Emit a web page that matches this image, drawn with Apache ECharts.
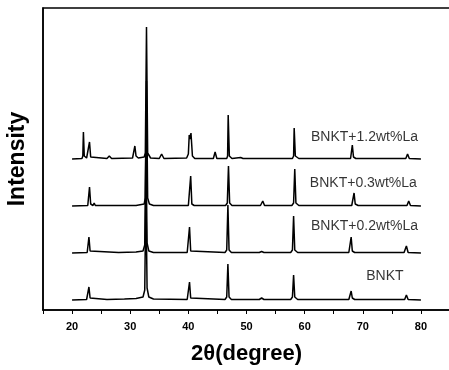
<!DOCTYPE html>
<html>
<head>
<meta charset="utf-8">
<script src="https://cdn.jsdelivr.net/npm/echarts@6/dist/echarts.min.js"></script>
<style>
html,body{margin:0;padding:0;background:#fff;}
#c{width:449px;height:370px;}
</style>
</head>
<body>
<div id="c"></div>
<script>
// Sample names (bottom to top)
var sampleNames = ['BNKT', 'BNKT+0.2wt%La', 'BNKT+0.3wt%La', 'BNKT+1.2wt%La'];
// Vertical offsets of each pattern (stacked display, a.u.)
var offsets = [10, 57, 104, 151];
// Label anchor positions [2θ, intensity]
var labelPos = [[73.8, 34], [70.3, 84], [70.1, 127], [70.3, 173]];

// Patterns: [2θ (deg), relative intensity above baseline (a.u.)]
var bnkt = [[20,0],[22.5,0.5],[22.7,2],[22.9,13],[23.1,2],[23.4,0.5],[26,0.5],[29,1],[31,1.5],[32.2,3],[32.5,10],[32.7,110],[32.9,12],[33.2,3],[34,1],[39.8,0.5],[40.0,2],[40.2,18],[40.4,2],[40.7,0.5],[46.3,0.5],[46.6,3],[46.8,36],[47.0,3],[47.4,0.5],[52.2,0.5],[52.6,2],[53.0,0.5],[57.6,0.5],[57.9,3],[58.1,25],[58.3,3],[58.8,0.5],[67.6,0.5],[67.9,2],[68.0,9],[68.2,2],[68.6,0.5],[77.2,0.5],[77.5,5],[77.8,0.5],[80,0]];
var la02 = [[20,0],[22.6,0.5],[22.8,2],[22.9,16],[23.1,2],[23.4,0.5],[28,0.5],[31,1],[32.2,2],[32.5,8],[32.7,120],[32.9,10],[33.2,2],[34,0.5],[39.8,0.5],[40.0,2],[40.2,26],[40.4,2],[40.7,0.5],[46.3,0.5],[46.6,3],[46.8,48],[47.0,3],[47.4,0.5],[52.2,0.5],[52.6,1.5],[53,0.5],[57.6,0.5],[57.9,3],[58.1,37],[58.3,3],[58.8,0.5],[67.6,0.5],[67.9,2],[68.0,16],[68.2,2],[68.6,0.5],[77.1,0.5],[77.5,7],[77.8,0.5],[80,0]];
var la03 = [[20,0],[22.7,0.5],[22.9,2],[23.0,19],[23.2,2],[23.6,0.5],[23.8,3],[24.0,0.5],[31,0.5],[32.4,2],[32.6,8],[32.8,125],[33.0,8],[33.3,2],[34,0.5],[40.0,0.5],[40.2,2],[40.4,30],[40.6,2],[41,0.5],[46.4,0.5],[46.7,3],[46.9,40],[47.1,3],[47.5,0.5],[52.4,0.5],[52.8,5],[53.1,0.5],[57.8,0.5],[58.1,3],[58.3,37],[58.5,3],[59,0.5],[68.1,0.5],[68.3,2],[68.5,13],[68.7,2],[69.2,0.5],[77.6,0.5],[77.9,5],[78.2,0.5],[80,0]];
var la12 = [[20,0],[21.7,0.5],[21.85,3],[21.95,27],[22.1,3],[22.5,1],[22.8,2],[23.0,17],[23.2,2],[23.5,0.5],[26.0,0.5],[26.4,3],[26.8,0.5],[30.4,1],[30.6,3],[30.8,13],[31.0,3],[31.4,1],[32.4,2],[32.6,6],[32.8,132],[33.0,6],[33.2,4],[33.5,1],[35.0,0.5],[35.4,5],[35.8,0.5],[39.7,1],[40.0,5],[40.15,24],[40.3,20],[40.45,26],[40.7,3],[41.1,0.5],[44.3,0.5],[44.6,7],[44.9,0.5],[46.6,0.5],[46.75,3],[46.85,44],[47.05,3],[47.5,0.5],[49.0,1.5],[49.4,0.5],[52.5,0.5],[52.8,2.5],[53.2,0.5],[57.9,0.5],[58.1,3],[58.2,31],[58.4,3],[59,0.5],[63.8,0.5],[64.1,1.5],[64.5,0.5],[67.9,0.5],[68.1,2],[68.2,14],[68.4,2],[68.8,0.5],[77.4,0.5],[77.7,5],[78.0,0.5],[80,0]];

var patterns = [bnkt, la02, la03, la12];

// X axis ticks
var xMin = 15, xMax = 85, xInterval = 5;

var chart = echarts.init(document.getElementById('c'), null, {renderer: 'canvas'});
var series = patterns.map(function (p, i) {
  return {
    type: 'line',
    name: sampleNames[i],
    showSymbol: false,
    symbol: 'none',
    silent: true,
    lineStyle: {color: '#000', width: 1.5},
    data: p.map(function (d) { return [d[0], d[1] + offsets[i]]; }),
    z: 2
  };
});
series.push({
  type: 'scatter',
  symbolSize: 1,
  itemStyle: {color: 'rgba(0,0,0,0)'},
  silent: true,
  data: labelPos.map(function (pos, i) { return [pos[0], pos[1], sampleNames[i]]; }),
  label: {
    show: true,
    position: 'inside',
    formatter: function (p) { return p.data[2]; },
    color: '#000',
    fontSize: 14,
    fontWeight: 500,
    fontFamily: 'Liberation Sans, Arial, sans-serif'
  },
  z: 3
});

chart.setOption({
  animation: false,
  backgroundColor: '#fff',
  grid: {left: 43, width: 407, top: 8, height: 302, outerBoundsMode: 'none', containLabel: false, show: true, borderColor: '#000', borderWidth: 1.5, backgroundColor: 'transparent'},
  xAxis: {
    type: 'value',
    min: xMin, max: xMax, interval: xInterval,
    name: '2θ(degree)',
    nameLocation: 'middle',
    nameGap: 33,
    nameTextStyle: {fontSize: 22, fontWeight: 'bold', color: '#000', fontFamily: 'Liberation Sans, Arial, sans-serif'},
    axisLine: {lineStyle: {color: '#000', width: 1.5}},
    axisTick: {show: true, inside: false, length: 4, lineStyle: {color: '#000', width: 1}},
    axisLabel: {
      color: '#000', fontSize: 11, fontWeight: 'bold', margin: 11,
      fontFamily: 'Liberation Sans, Arial, sans-serif',
      formatter: function (v) { return (v % 10 === 0 && v >= 20 && v <= 80) ? String(v) : ''; }
    },
    splitLine: {show: false}
  },
  yAxis: {
    type: 'value',
    min: 0, max: 302,
    name: 'Intensity',
    nameLocation: 'middle',
    nameGap: 14,
    nameTextStyle: {fontSize: 23, fontWeight: 'bold', color: '#000', fontFamily: 'Liberation Sans, Arial, sans-serif'},
    axisLine: {show: true, lineStyle: {color: '#000', width: 1.5}},
    axisTick: {show: false},
    axisLabel: {show: false},
    splitLine: {show: false}
  },
  series: series
});
</script>
</body>
</html>
